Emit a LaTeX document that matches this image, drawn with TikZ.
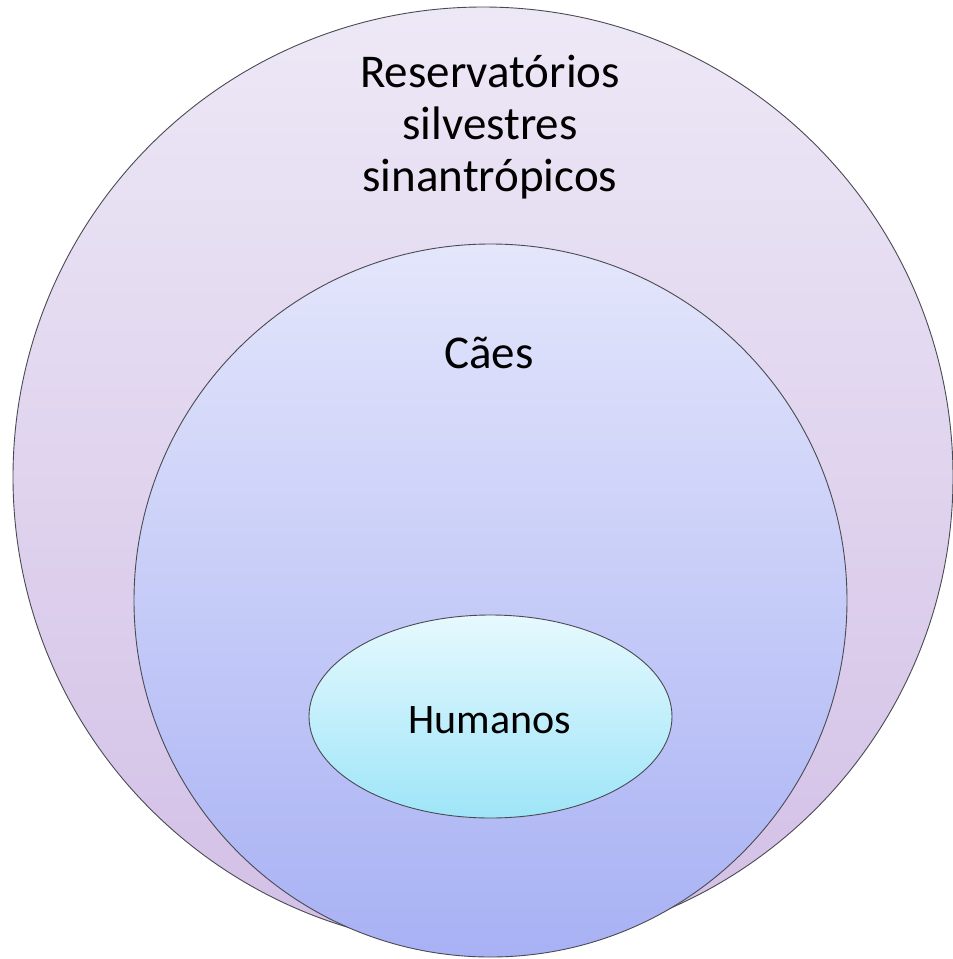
\documentclass[tikz,border=0pt]{standalone}
\usepackage{fontspec}
\setmainfont{Carlito}
\usetikzlibrary{shapes.geometric}
\definecolor{outerTop}{HTML}{EDE8F6}
\definecolor{outerBot}{HTML}{D2BFE6}
\definecolor{midTop}{HTML}{E4E6FB}
\definecolor{midBot}{HTML}{A8B1F4}
\definecolor{ellTop}{HTML}{E6F9FE}
\definecolor{ellBot}{HTML}{9EE5F8}
\definecolor{edgeCol}{HTML}{4A4A52}
\tikzset{
  ring/.style={circle, draw=edgeCol, line width=0.9pt, inner sep=0pt},
  lbl/.style={align=center, text=black, inner sep=0pt},
}
\begin{document}
\begin{tikzpicture}[x=1pt,y=-1pt]
\useasboundingbox (0,0) rectangle (953,959);
\node[ring, minimum size=940pt, top color=outerTop, bottom color=outerBot] (outer) at (483,477) {};
\node[ring, minimum size=713pt, top color=midTop, bottom color=midBot] (middle) at (490.5,600.5) {};
\node[ellipse, draw=edgeCol, line width=0.9pt, inner sep=0pt, minimum width=363pt, minimum height=203pt, top color=ellTop, bottom color=ellBot] (inner) at (490.5,716.5) {};
\node[lbl, font=\fontsize{47}{52}\selectfont, anchor=base] (reslbl) at (490,191) {Reservatórios\\silvestres\\sinantrópicos};
\node[lbl, font=\fontsize{47}{52}\selectfont, anchor=base] (caeslbl) at (489,368) {Cães};
\node[lbl, font=\fontsize{42}{46}\selectfont, anchor=base] (humlbl) at (490,733) {Humanos};
\end{tikzpicture}
\end{document}
